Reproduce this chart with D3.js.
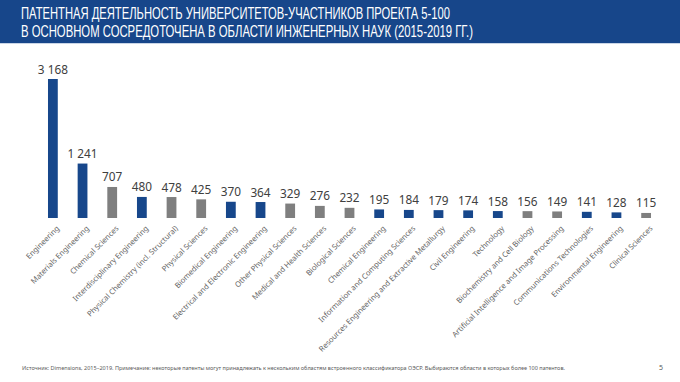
<!DOCTYPE html>
<html><head><meta charset="utf-8">
<script src="https://cdn.jsdelivr.net/npm/d3@7"></script>
<style>html,body{margin:0;padding:0;background:#fff;}svg{display:block;}</style>
</head><body>
<script>
const categories = ["Engineering","Materials Engineering","Chemical Sciences","Interdisciplinary Engineering","Physical Chemistry (incl. Structural)","Physical Sciences","Biomedical Engineering","Electrical and Electronic Engineering","Other Physical Sciences","Medical and Health Sciences","Biological Sciences","Chemical Engineering","Information and Computing Sciences","Resources Engineering and Extractive Metallurgy","Civil Engineering","Technology","Biochemistry and Cell Biology","Artificial Intelligence and Image Processing","Communications Technologies","Environmental Engineering","Clinical Sciences"];
const values = [3168,1241,707,480,478,425,370,364,329,276,232,195,184,179,174,158,156,149,141,128,115];
const isEngineering = [true,true,false,true,false,false,true,true,false,false,false,true,true,true,true,true,false,false,true,true,false];
const titleLines = ["ПАТЕНТНАЯ ДЕЯТЕЛЬНОСТЬ УНИВЕРСИТЕТОВ-УЧАСТНИКОВ ПРОЕКТА 5-100","В ОСНОВНОМ СОСРЕДОТОЧЕНА В ОБЛАСТИ ИНЖЕНЕРНЫХ НАУК (2015-2019 ГГ.)"];
const footnote = "Источник: Dimensions, 2015–2019. Примечание: некоторые патенты могут принадлежать к нескольким областям встроенного классификатора ОЭСР. Выбираются области в которых более 100 патентов.";
const pageNumber = "5";

const W = 680, H = 382;
const BLUE = "#17478b", GREY = "#7f7f7f";
const svg = d3.select("body").append("svg").attr("width", W).attr("height", H);

// banner
svg.append("rect").attr("x",0).attr("y",0).attr("width",W).attr("height",43).attr("fill","#17468a");
svg.append("rect").attr("x",0).attr("y",43).attr("width",W).attr("height",1).attr("fill","#c9d5e6");
const tl = [[18.5,429],[37,452]];
titleLines.forEach((t,i)=>{
  svg.append("text").attr("x",21).attr("y",tl[i][0]).attr("fill","#fff")
    .attr("font-family","'Liberation Sans Narrow','Arial Narrow','Liberation Sans',sans-serif")
    .attr("font-size",16).attr("textLength",tl[i][1]).attr("lengthAdjust","spacingAndGlyphs").text(t);
});

// scales
const baseline = 218;
const x = d3.scaleBand().domain(categories).range([38.2, 660.8]).paddingInner(0.67).paddingOuter(0.33);
const y = d3.scaleLinear().domain([0, d3.max(values)]).range([baseline, 79]);
const data = categories.map((c,i)=>({c, v: values[i], eng: isEngineering[i]}));

svg.append("g").selectAll("rect").data(data).join("rect")
  .attr("x", d=>x(d.c)).attr("width", x.bandwidth())
  .attr("y", d=>y(d.v)).attr("height", d=>baseline - y(d.v))
  .attr("fill", d=>d.eng ? BLUE : GREY);

const fmt = v => d3.format(",")(v).replace(/,/g," ");
svg.append("g").selectAll("text").data(data).join("text")
  .attr("x", d=>x(d.c)+x.bandwidth()/2).attr("y", d=>y(d.v)-5.5)
  .attr("text-anchor","middle").attr("font-family","'Noto Sans',sans-serif")
  .attr("font-size",11.8).attr("fill","#404040").text(d=>fmt(d.v));

// category axis labels
svg.append("g").selectAll("text").data(data).join("text")
  .attr("transform", d=>`translate(${x(d.c)+x.bandwidth()/2+5},${baseline+9}) rotate(-45)`)
  .attr("dy","0.35em").attr("text-anchor","end")
  .attr("font-family","'Noto Sans',sans-serif").attr("font-size",7.6).attr("fill","#666666")
  .text(d=>d.c);

// footnote
svg.append("text").attr("x",22).attr("y",369.5).attr("font-family","'Noto Sans',sans-serif")
  .attr("font-size",5.6).attr("fill","#595959").attr("textLength",543).attr("lengthAdjust","spacingAndGlyphs").text(footnote);
svg.append("text").attr("x",659).attr("y",369.5).attr("font-family","'Noto Sans',sans-serif")
  .attr("font-size",7).attr("fill","#595959").text(pageNumber);
</script>
</body></html>
